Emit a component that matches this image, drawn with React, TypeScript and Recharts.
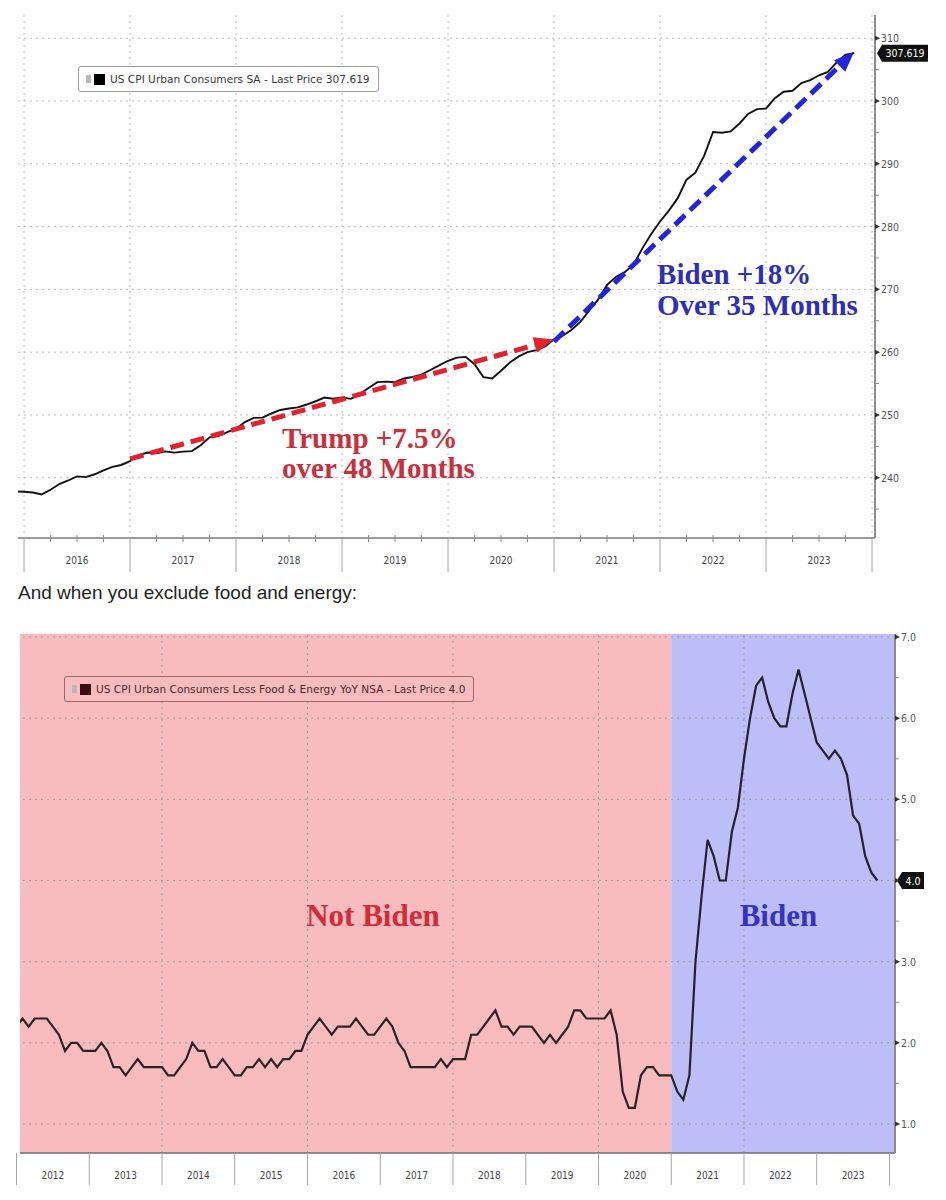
import React from 'react';
import {
  LineChart, Line, XAxis, YAxis, CartesianGrid,
  ReferenceLine, ReferenceArea, ReferenceDot, Legend,
} from 'recharts';

// US CPI Urban Consumers SA, monthly, Nov 2015 .. Oct 2023 (plotted at month end)
const CPI_FIRST_YEAR = 2015;
const CPI_FIRST_MONTH = 11;
const CPI_SA = [
  237.84, 237.76,
  237.65, 237.34, 238.08, 238.99, 239.56, 240.22, 240.10, 240.55, 241.18, 241.74, 242.03, 242.64,
  243.62, 244.01, 243.89, 244.19, 244.00, 244.16, 244.24, 245.18, 246.44, 246.63, 247.28, 247.81,
  248.86, 249.53, 249.58, 250.23, 250.79, 251.02, 251.21, 251.66, 252.18, 252.77, 252.59, 252.77,
  252.56, 253.32, 254.28, 255.23, 255.30, 255.21, 255.80, 256.04, 256.43, 257.16, 257.88, 258.63,
  259.13, 259.25, 258.08, 256.03, 255.80, 257.04, 258.35, 259.32, 260.00, 260.32, 260.91, 262.05,
  262.64, 263.57, 264.85, 266.63, 268.40, 270.71, 271.97, 272.75, 273.94, 276.53, 278.82, 280.81,
  282.54, 284.53, 287.47, 288.58, 291.30, 295.07, 294.94, 295.16, 296.42, 297.98, 298.71, 298.81,
  300.46, 301.48, 301.64, 302.86, 303.32, 304.10, 304.62, 306.14, 307.37, 307.619,
];

// US CPI Urban Consumers Less Food & Energy YoY NSA, Dec 2011 .. Oct 2023
const CORE_FIRST_YEAR = 2011;
const CORE_FIRST_MONTH = 12;
const CORE_YOY = [
  2.2,
  2.3, 2.2, 2.3, 2.3, 2.3, 2.2, 2.1, 1.9, 2.0, 2.0, 1.9, 1.9,
  1.9, 2.0, 1.9, 1.7, 1.7, 1.6, 1.7, 1.8, 1.7, 1.7, 1.7, 1.7,
  1.6, 1.6, 1.7, 1.8, 2.0, 1.9, 1.9, 1.7, 1.7, 1.8, 1.7, 1.6,
  1.6, 1.7, 1.7, 1.8, 1.7, 1.8, 1.7, 1.8, 1.8, 1.9, 1.9, 2.1,
  2.2, 2.3, 2.2, 2.1, 2.2, 2.2, 2.2, 2.3, 2.2, 2.1, 2.1, 2.2,
  2.3, 2.2, 2.0, 1.9, 1.7, 1.7, 1.7, 1.7, 1.7, 1.8, 1.7, 1.8,
  1.8, 1.8, 2.1, 2.1, 2.2, 2.3, 2.4, 2.2, 2.2, 2.1, 2.2, 2.2,
  2.2, 2.1, 2.0, 2.1, 2.0, 2.1, 2.2, 2.4, 2.4, 2.3, 2.3, 2.3,
  2.3, 2.4, 2.1, 1.4, 1.2, 1.2, 1.6, 1.7, 1.7, 1.6, 1.6, 1.6,
  1.4, 1.3, 1.6, 3.0, 3.8, 4.5, 4.3, 4.0, 4.0, 4.6, 4.9, 5.5,
  6.0, 6.4, 6.5, 6.2, 6.0, 5.9, 5.9, 6.3, 6.6, 6.3, 6.0, 5.7,
  5.6, 5.5, 5.6, 5.5, 5.3, 4.8, 4.7, 4.3, 4.1, 4.0,
];

const TOP_YEARS = [2016, 2017, 2018, 2019, 2020, 2021, 2022, 2023];
const TOP_Y_MAJOR = [240, 250, 260, 270, 280, 290, 300, 310];
const TOP_Y_MINOR = [235, 245, 255, 265, 275, 285, 295, 305];
const BOTTOM_YEARS = [2012, 2013, 2014, 2015, 2016, 2017, 2018, 2019, 2020, 2021, 2022, 2023];
const BOTTOM_GRID_YEARS = [2014, 2016, 2018, 2020, 2022];
const BOTTOM_Y_MAJOR = [1, 2, 3, 4, 5, 6, 7];
const BOTTOM_Y_MINOR = [1.5, 2.5, 3.5, 4.5, 5.5, 6.5];

// annotation arrows (decimal year, CPI level)
const TRUMP_ARROW = [{ x: 2017.0, y: 243.0 }, { x: 2021.0, y: 262.0 }];
const BIDEN_ARROW = [{ x: 2021.0, y: 261.7 }, { x: 2023.83, y: 307.8 }];
const TRUMP_LABEL = ['Trump +7.5%', 'over 48 Months'];
const BIDEN_LABEL = ['Biden +18%', 'Over 35 Months'];
const BIDEN_START = 2021;

const SANS = '"DejaVu Sans", Verdana, sans-serif';
const COND = '"DejaVu Sans Condensed", "DejaVu Sans", sans-serif';
const SERIF = '"Liberation Serif", "Times New Roman", serif';

const TOP_X_DOMAIN: [number, number] = [2015.943, 2024.028];
const TOP_Y_DOMAIN: [number, number] = [230.4, 313.7];
const BOT_X_DOMAIN: [number, number] = [2012.048, 2024.076];
const BOT_Y_DOMAIN: [number, number] = [0.643, 7.037];

const monthEnd = (y0: number, m0: number, i: number) => y0 + (m0 + i) / 12;

const cpiData = CPI_SA.map((v, i) => ({ t: monthEnd(CPI_FIRST_YEAR, CPI_FIRST_MONTH, i), v }));
const coreData = CORE_YOY.map((v, i) => ({ t: monthEnd(CORE_FIRST_YEAR, CORE_FIRST_MONTH, i), v }));

const topXTicks = [...TOP_YEARS.flatMap((y) => [y, y + 0.25, y + 0.5, y + 0.75]), 2024];
const botXTicks = [...BOTTOM_YEARS.flatMap((y) => [y, y + 0.5]), 2024];

function yearTick(sepLen: number, labelDy: number, quarters: boolean) {
  return (props: any) => {
    const { x, y, payload } = props;
    const v = payload.value as number;
    const q = Math.round((v - Math.floor(v)) * 4);
    if (q === 0) {
      return <line x1={x} y1={y} x2={x} y2={y + sepLen} stroke="#a4a4a4" strokeWidth={1} />;
    }
    return (
      <g>
        {quarters && <line x1={x} y1={y - 3} x2={x} y2={y + 4} stroke="#8a8a8a" strokeWidth={1} />}
        {q === 2 && (
          <text x={x} y={y + labelDy} textAnchor="middle" fontSize={10} fill="#444" fontFamily={COND}>
            {Math.floor(v)}
          </text>
        )}
      </g>
    );
  };
}

// hidden: value whose label sits under the last-price tag
function valueTick(isMajor: (v: number) => boolean, fmt: (v: number) => string, hidden?: number) {
  return (props: any) => {
    const { x, y, payload } = props;
    const v = payload.value as number;
    if (!isMajor(v)) return <line x1={x} y1={y} x2={x + 4} y2={y} stroke="#8a8a8a" />;
    return (
      <g>
        <path d={`M${x},${y - 2.5} L${x + 5},${y} L${x},${y + 2.5} Z`} fill="#333" />
        {v !== hidden && (
          <text x={x + 6} y={y + 4} fontSize={10.5} fill="#555" fontFamily={COND}>{fmt(v)}</text>
        )}
      </g>
    );
  };
}

function arrowShape(color: string, width: number) {
  return (p: any) => {
    const { x1, y1, x2, y2 } = p;
    const a = Math.atan2(y2 - y1, x2 - x1);
    const head = 20;
    const hw = 8;
    const bx = x2 - head * Math.cos(a);
    const by = y2 - head * Math.sin(a);
    const lx = bx + hw * Math.sin(a);
    const ly = by - hw * Math.cos(a);
    const rx = bx - hw * Math.sin(a);
    const ry = by + hw * Math.cos(a);
    return (
      <g>
        <line x1={x1} y1={y1} x2={bx} y2={by} stroke={color} strokeWidth={width} strokeDasharray="14 7" />
        <polygon points={`${x2},${y2} ${lx},${ly} ${rx},${ry}`} fill={color} />
      </g>
    );
  };
}

function textShape(lines: string[], color: string, size: number, gap: number, anchor: 'start' | 'middle') {
  return (p: any) => (
    <text x={p.cx} y={p.cy} fill={color} fontSize={size} fontWeight="bold" fontFamily={SERIF} textAnchor={anchor}>
      {lines.map((l, i) => (
        <tspan key={i} x={p.cx} dy={i === 0 ? 0 : gap}>{l}</tspan>
      ))}
    </text>
  );
}

function priceTag(text: string, w: number) {
  return (p: any) => {
    const x = p.cx + 2;
    const y = p.cy;
    return (
      <g>
        <path d={`M${x},${y} L${x + 5},${y - 8.5} H${x + 5 + w} V${y + 8.5} H${x + 5} Z`} fill="#111" />
        <text x={x + 5 + w / 2} y={y + 4} fill="#fff" fontSize={10.5} textAnchor="middle" fontFamily={COND}>{text}</text>
      </g>
    );
  };
}

function LegendBox({ label, bg, border, swatch, color }: { label: string; bg: string; border: string; swatch: string; color: string }) {
  return (
    <div
      style={{
        display: 'flex', alignItems: 'center', gap: 3, padding: '6px 8px 6px 7px',
        background: bg, border: `1px solid ${border}`, borderRadius: 3,
        fontFamily: SANS, fontSize: 10.6, color, whiteSpace: 'nowrap', lineHeight: '12px',
      }}
    >
      <span style={{ width: 5, height: 8, background: '#b8b8b8', display: 'inline-block' }} />
      <span style={{ width: 11, height: 11, background: swatch, display: 'inline-block', marginRight: 2 }} />
      <span>{label}</span>
    </div>
  );
}

export default function App() {
  const topLast = CPI_SA[CPI_SA.length - 1];
  const botLast = CORE_YOY[CORE_YOY.length - 1];
  return (
    <div style={{ position: 'absolute', left: 0, top: 0, width: 946, height: 1200, background: '#fff' }}>
      <div style={{ position: 'absolute', left: 0, top: 0 }}>
        <LineChart width={946} height={580} data={cpiData} margin={{ top: 15, right: 0, bottom: 0, left: 18 }}>
          <CartesianGrid
            stroke="#b8b8b8"
            strokeDasharray="2 4"
            horizontalValues={TOP_Y_MAJOR}
            verticalValues={[...TOP_YEARS, 2024]}
          />
          <XAxis
            dataKey="t" type="number" domain={TOP_X_DOMAIN} allowDataOverflow
            ticks={topXTicks} interval={0} height={42}
            tickSize={0} tickMargin={0} tickLine={false}
            axisLine={{ stroke: '#7a7a7a', strokeWidth: 1.5 }}
            tick={yearTick(34, 26, true)}
          />
          <YAxis
            orientation="right" type="number" domain={TOP_Y_DOMAIN} allowDataOverflow
            ticks={[...TOP_Y_MINOR, ...TOP_Y_MAJOR].sort((a, b) => a - b)} interval={0} width={71}
            tickSize={0} tickMargin={0} tickLine={false}
            axisLine={{ stroke: '#8c8c8c', strokeWidth: 2 }}
            tick={valueTick((v) => v % 10 === 0, (v) => String(v))}
          />
          <Legend
            verticalAlign="middle"
            wrapperStyle={{ top: 66, left: 78, width: 'auto' }}
            content={() => (
              <LegendBox
                label={`US CPI Urban Consumers SA - Last Price ${topLast.toFixed(3)}`}
                bg="#fff" border="#9a9a9a" swatch="#000" color="#3a3a3a"
              />
            )}
          />
          <Line dataKey="v" stroke="#111" strokeWidth={1.9} dot={false} isAnimationActive={false} />
          <ReferenceLine segment={TRUMP_ARROW} ifOverflow="visible" shape={arrowShape('#e0232f', 5)} />
          <ReferenceLine segment={BIDEN_ARROW} ifOverflow="visible" shape={arrowShape('#2323dc', 5)} />
          <ReferenceDot x={2018.434} y={244.78} r={0} ifOverflow="visible" shape={textShape(TRUMP_LABEL, '#c9303e', 29, 30, 'start')} />
          <ReferenceDot x={2021.972} y={270.89} r={0} ifOverflow="visible" shape={textShape(BIDEN_LABEL, '#2e2eb6', 29, 31, 'start')} />
          <ReferenceDot x={TOP_X_DOMAIN[1]} y={topLast} r={0} ifOverflow="visible" shape={priceTag(topLast.toFixed(3), 46)} />
        </LineChart>
      </div>

      <div
        style={{
          position: 'absolute', left: 18, top: 582, fontFamily: '"Liberation Sans", Arial, sans-serif',
          fontSize: 19, lineHeight: '22px', color: '#1e1e1e', whiteSpace: 'nowrap',
        }}
      >
        And when you exclude food and energy:
      </div>

      <div style={{ position: 'absolute', left: 0, top: 620 }}>
        <LineChart width={946} height={580} data={coreData} margin={{ top: 14, right: 0, bottom: 0, left: 20 }}>
          <ReferenceArea x1={BOT_X_DOMAIN[0]} x2={BIDEN_START} fill="#f8bcbf" fillOpacity={1} ifOverflow="visible" />
          <ReferenceArea x1={BIDEN_START} x2={BOT_X_DOMAIN[1]} fill="#bdbdf8" fillOpacity={1} ifOverflow="visible" />
          {BOTTOM_Y_MAJOR.map((v) => (
            <ReferenceLine key={`h${v}`} y={v} stroke="#a39aa6" strokeDasharray="2 4" />
          ))}
          {BOTTOM_GRID_YEARS.map((v) => (
            <ReferenceLine key={`v${v}`} x={v} stroke="#a39aa6" strokeDasharray="2 4" />
          ))}
          <XAxis
            dataKey="t" type="number" domain={BOT_X_DOMAIN} allowDataOverflow
            ticks={botXTicks} interval={0} height={47}
            tickSize={0} tickMargin={0} tickLine={false}
            axisLine={{ stroke: '#6f6f6f', strokeWidth: 1.5 }}
            tick={yearTick(32, 26, false)}
          />
          <YAxis
            orientation="right" type="number" domain={BOT_Y_DOMAIN} allowDataOverflow
            ticks={[...BOTTOM_Y_MINOR, ...BOTTOM_Y_MAJOR].sort((a, b) => a - b)} interval={0} width={51}
            tickSize={0} tickMargin={0} tickLine={false}
            axisLine={{ stroke: '#8c8c8c', strokeWidth: 2 }}
            tick={valueTick((v) => Number.isInteger(v), (v) => v.toFixed(1), Math.round(botLast))}
          />
          <Legend
            verticalAlign="middle"
            wrapperStyle={{ top: 56, left: 64, width: 'auto' }}
            content={() => (
              <LegendBox
                label={`US CPI Urban Consumers Less Food & Energy YoY NSA - Last Price ${botLast.toFixed(1)}`}
                bg="#f8bcbf" border="#9a6a6e" swatch="#3a0d12" color="#4a2a2e"
              />
            )}
          />
          <Line dataKey="v" stroke="#000" strokeOpacity={0.82} strokeWidth={2.2} dot={false} isAnimationActive={false} />
          <ReferenceDot x={2016.9} y={3.44} r={0} ifOverflow="visible" shape={textShape(['Not Biden'], '#d22c38', 31, 0, 'middle')} />
          <ReferenceDot x={2022.474} y={3.44} r={0} ifOverflow="visible" shape={textShape(['Biden'], '#3434c4', 31, 0, 'middle')} />
          <ReferenceDot x={BOT_X_DOMAIN[1]} y={botLast} r={0} ifOverflow="visible" shape={priceTag(botLast.toFixed(1), 22)} />
        </LineChart>
      </div>
    </div>
  );
}
